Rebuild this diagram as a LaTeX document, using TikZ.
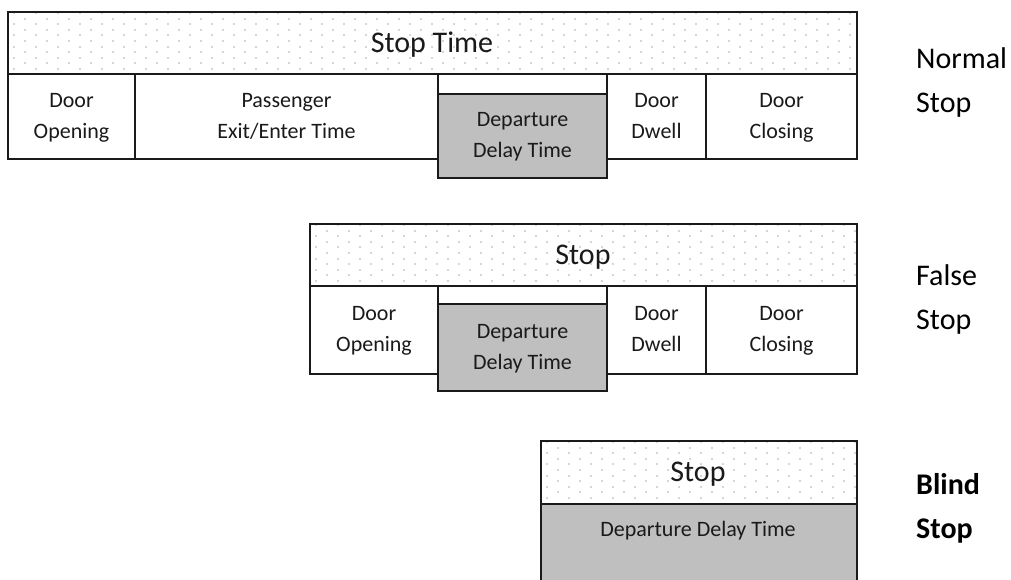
\documentclass[tikz,border=0pt]{standalone}
\usepackage{fontspec}
\setmainfont{Carlito}
\definecolor{inkc}{HTML}{1A1A1A}
\definecolor{delayfill}{HTML}{BFBFBF}
\definecolor{stipc}{HTML}{D6D6D6}
\tikzset{
  cell/.style={draw=inkc, line width=2pt, fill=white, anchor=north west,
    inner sep=0pt, outer sep=0pt, align=center, text=inkc,
    font=\fontsize{22}{31}\selectfont},
  delaycell/.style={cell, fill=delayfill},
  band/.style={draw=inkc, line width=2pt, anchor=north west, inner sep=0pt,
    outer sep=0pt, text=inkc, font=\fontsize{30}{36}\selectfont},
  tag/.style={anchor=west, align=left, text=black, inner sep=0pt,
    font=\fontsize{30}{44}\selectfont},
}
% light stippled background: staggered dot lattice clipped to a box
\newcommand\stipplebox[4]{%
  \begin{scope}
    \clip (#1,#2) rectangle (#3,#4);
    \foreach \j in {0,...,12} {
      \pgfmathsetmacro\yy{#2+1+5.6*\j}
      \pgfmathsetmacro\xo{#1+6+11*mod(\j,2)}
      \foreach \k in {0,...,39} {
        \fill[stipc] ({\xo+22*\k-1},{\yy-1}) rectangle ++(2,2);
      }
    }
  \end{scope}}
\newcommand\cellat[6]{% name, style, x1, y1, x2, y2 ; text follows
  \node[#2, minimum width={(#5-#3)*1pt}, minimum height={(#6-#4)*1pt}] (#1) at (#3,#4)}
% two-line label with even line boxes
\newcommand\twoline[2]{\strut#1\\#2\strut}
\begin{document}
\begin{tikzpicture}[x=1pt, y=-1pt]
\useasboundingbox[fill=white] (0,0) rectangle (1011,580);

% ---------------- Normal stop ----------------
\stipplebox{8}{12}{857}{74}
\cellat{st1}{band}{8}{12}{857}{74} {};
\node[text=inkc, font=\fontsize{30}{36}\selectfont] (st1t) at (432,45) {Stop Time};
\cellat{op1}{cell}{8}{74}{135}{159} {\twoline{Door}{Opening}};
\cellat{px1}{cell}{135}{74}{438}{159} {\twoline{Passenger}{Exit/Enter Time}};
\cellat{gp1}{cell}{438}{74}{607}{94} {};
\cellat{dl1}{delaycell}{438}{94}{607}{178} {\twoline{Departure}{Delay Time}};
\cellat{dw1}{cell}{607}{74}{706}{159} {\twoline{Door}{Dwell}};
\cellat{cl1}{cell}{706}{74}{857}{159} {\twoline{Door}{Closing}};
\node[tag] (lb1) at (916,83) {Normal\\Stop};

% ---------------- False stop ----------------
\stipplebox{310}{224}{857}{286}
\cellat{st2}{band}{310}{224}{857}{286} {};
\node[text=inkc, font=\fontsize{30}{36}\selectfont] (st2t) at (583,257) {Stop};
\cellat{op2}{cell}{310}{286}{438}{374} {\twoline{Door}{Opening}};
\cellat{gp2}{cell}{438}{286}{607}{304} {};
\cellat{dl2}{delaycell}{438}{304}{607}{391} {\twoline{Departure}{Delay Time}};
\cellat{dw2}{cell}{607}{286}{706}{374} {\twoline{Door}{Dwell}};
\cellat{cl2}{cell}{706}{286}{857}{374} {\twoline{Door}{Closing}};
\node[tag] (lb2) at (916,300) {False\\Stop};

% ---------------- Blind stop ----------------
\stipplebox{541}{441}{857}{504}
\cellat{st3}{band}{541}{441}{857}{504} {};
\node[text=inkc, font=\fontsize{30}{36}\selectfont] (st3t) at (698,474) {Stop};
\cellat{dl3}{delaycell}{541}{504}{857}{590} {};
\node[text=inkc, font=\fontsize{22}{31}\selectfont] (dl3t) at (698,531) {Departure Delay Time};
\node[tag, font=\bfseries\fontsize{30}{44}\selectfont] (lb3) at (916,508) {Blind\\Stop};
\end{tikzpicture}
\end{document}
